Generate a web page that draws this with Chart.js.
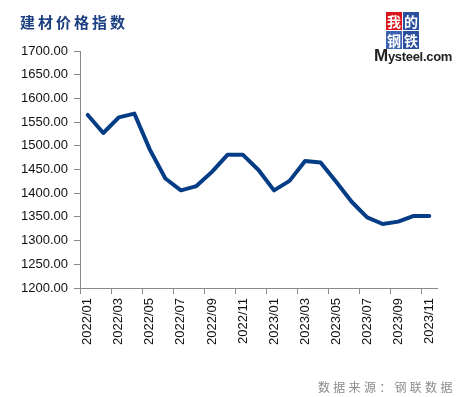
<!DOCTYPE html>
<html>
<head>
<meta charset="utf-8">
<script src="https://cdn.jsdelivr.net/npm/chart.js@4"></script>
<style>
html,body{margin:0;padding:0;background:#fff;}
#wrap{position:relative;width:465px;height:397px;overflow:hidden;}
#c{position:absolute;left:0;top:0;}
#title{position:absolute;left:20px;top:11px;font-family:"Noto Sans CJK SC";font-weight:bold;font-size:15px;letter-spacing:3px;color:#1b3f80;white-space:nowrap;}
#source{position:absolute;left:318px;top:378px;font-family:"Noto Sans CJK SC";font-size:12px;letter-spacing:3.3px;color:#8c8c8c;white-space:nowrap;}
#logo{position:absolute;left:386px;top:12px;width:33px;}
#logo .sq{position:absolute;width:16px;height:18px;font-family:"Noto Sans CJK SC";font-weight:bold;font-size:14px;line-height:18px;text-align:center;color:#fff;}
#mys{position:absolute;left:374px;top:46px;font-family:"Liberation Sans";font-weight:bold;font-size:13px;color:#222;white-space:nowrap;letter-spacing:-0.3px;}
#mys b{font-size:17px;}
</style>
</head>
<body>
<div id="wrap">
<canvas id="c" width="465" height="397"></canvas>
<div id="title">建材价格指数</div>
<div id="logo">
  <div class="sq" style="left:0;top:0;background:#d9161c;">我</div>
  <div class="sq" style="left:17px;top:0;background:#2a4f9e;">的</div>
  <div class="sq" style="left:0;top:19px;background:#3b62b0;">钢</div>
  <div class="sq" style="left:17px;top:19px;background:#2a4f9e;">铁</div>
</div>
<div id="mys"><b>M</b>ysteel.com</div>
<div id="source">数据来源：钢联数据</div>
</div>
<script>
const categories = ["2022/01","2022/02","2022/03","2022/04","2022/05","2022/06","2022/07","2022/08","2022/09","2022/10","2022/11","2022/12",
  "2023/01","2023/02","2023/03","2023/04","2023/05","2023/06","2023/07","2023/08","2023/09","2023/10","2023/11"];
const indexValues = [1565,1527,1560,1568,1492,1431,1406,1415,1445,1481,1481,1449,
  1406,1426,1468,1465,1424,1382,1349,1335,1340,1352,1352];
const yTicks = {min:1200, max:1700, step:50};

const axisGray = '#8a8a8a';
new Chart(document.getElementById('c'), {
  type: 'line',
  data: {
    labels: categories,
    datasets: [{
      label: '建材价格指数',
      data: indexValues,
      borderColor: '#053c86',
      backgroundColor: '#053c86',
      borderWidth: 4,
      pointRadius: 0,
      tension: 0,
      borderJoinStyle: 'round',
      borderCapStyle: 'round'
    }]
  },
  options: {
    responsive: false,
    animation: false,
    layout: {padding: {left: 0, top: 51, right: 28, bottom: 0}},
    plugins: {legend: {display: false}, tooltip: {enabled: false}, title: {display: false}},
    scales: {
      x: {
        type: 'category',
        offset: true,
        afterFit: s => { s.height = 109; },
        border: {display: true, color: axisGray, width: 1},
        grid: {
          display: true, drawOnChartArea: false, offset: true, tickLength: 6,
          tickColor: c => (c.index !== undefined && c.index % 2 === 0) ? axisGray : 'rgba(0,0,0,0)'
        },
        ticks: {
          autoSkip: false, maxRotation: 90, minRotation: 90, padding: 4,
          color: '#111', font: {family: 'Liberation Sans', size: 13},
          callback: function(v, i) { return i % 2 === 0 ? this.getLabelForValue(v) : ''; }
        }
      },
      y: {
        min: yTicks.min, max: yTicks.max,
        afterFit: s => { s.width = 80; },
        border: {display: true, color: axisGray, width: 1},
        grid: {display: true, drawOnChartArea: false, tickLength: 6, tickColor: axisGray},
        ticks: {
          stepSize: yTicks.step, padding: 6, color: '#111',
          font: {family: 'Liberation Sans', size: 13},
          callback: v => v.toFixed(2)
        }
      }
    }
  }
});
</script>
</body>
</html>
